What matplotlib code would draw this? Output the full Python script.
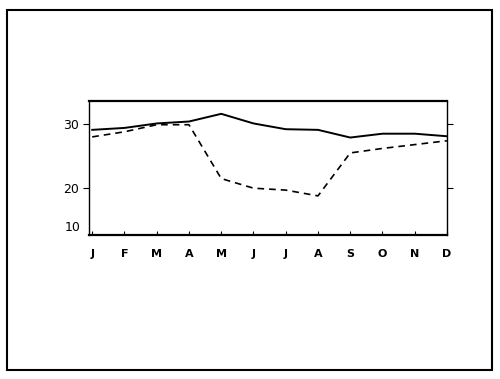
import matplotlib
matplotlib.use('Agg')
import matplotlib.pyplot as plt
from matplotlib.patches import Rectangle

# 月份和两条曲线的数值
months = ['J', 'F', 'M', 'A', 'M', 'J', 'J', 'A', 'S', 'O', 'N', 'D']
solid_vals = [29.1, 29.4, 30.1, 30.4, 31.6, 30.1, 29.2, 29.1, 27.9, 28.5, 28.5, 28.1]
dashed_vals = [28.0, 28.8, 29.9, 29.9, 21.5, 20.0, 19.7, 18.8, 25.5, 26.2, 26.8, 27.4]
y_ticks = [20, 30]
y_labels = ['20', '30']

x = list(range(len(months)))

fig = plt.figure(figsize=(5, 3.79), dpi=100)
# 外框
fig.patches.append(Rectangle((7 / 500, 9 / 379), 485 / 500, 360 / 379,
                             transform=fig.transFigure, fill=False,
                             edgecolor='black', linewidth=1.5))

ax = fig.add_axes([0.178, 0.380, 0.716, 0.3535])
ax.plot(x, solid_vals, color='black', linewidth=1.4)
ax.plot(x, dashed_vals, color='black', linewidth=1.2, linestyle=(0, (4, 3)))

ax.set_xlim(-0.1, 11)
ax.set_ylim(12.7, 33.6)

ax.set_xticks(x)
ax.set_xticklabels(months, fontsize=8, family='DejaVu Sans', fontweight='bold')
ax.tick_params(axis='x', direction='in', length=3, pad=10)
ax.set_yticks(y_ticks)
ax.set_yticklabels(y_labels, fontsize=9)
ax.tick_params(axis='y', direction='out', length=4, pad=3, right=True)
# 底部的“10”标签
ax.text(-0.35, 13.8, '10', fontsize=9, ha='right', va='center')

for side in ['top', 'bottom']:
    ax.spines[side].set_linewidth(1.6)
for side in ['left', 'right']:
    ax.spines[side].set_linewidth(1.0)

fig.savefig('out.png', dpi=100)
